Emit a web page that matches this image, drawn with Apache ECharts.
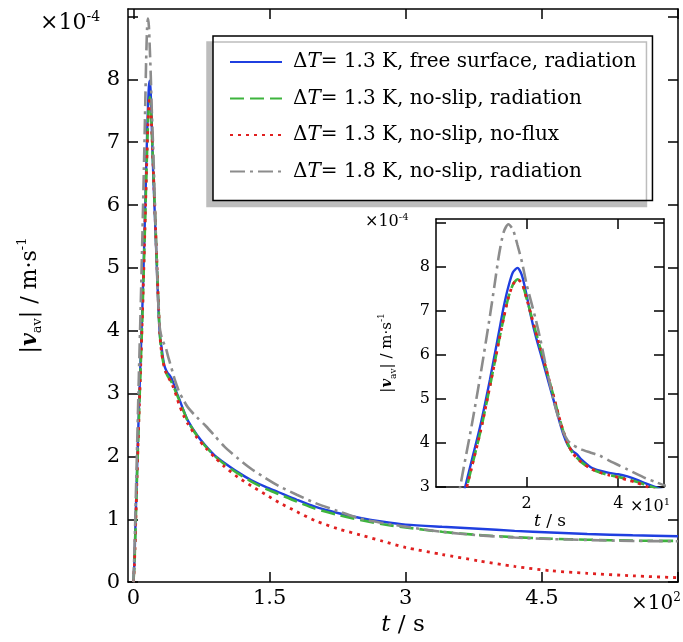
<!DOCTYPE html>
<html><head><meta charset="utf-8">
<script src="https://cdn.jsdelivr.net/npm/echarts@6/dist/echarts.min.js"></script>
<style>html,body{margin:0;padding:0;background:#fff}#c{width:683px;height:642px}</style>
</head><body><div id="c"></div>
<script>
// time in seconds
const timeS = [0,1,2,4,6,8,10,12,13,14,
  15,16,17,18,19,20,21,22,23,24,25,26,27,28,29,30,31,32,
  34,36,38,40,42,44,46,48,50,
  55,60,70,80,90,100,
  115,130,145,160,180,200,
  225,250,275,300,
  340,380,420,460,500,550,600];
// |v_av| in 1e-4 m/s
const vFreeSurfRad = [0,0.3,0.8,1.8,2.75,3.6,4.45,5.45,6.0,6.55,
  7.1,7.55,7.88,7.98,7.8,7.35,6.85,6.42,6.05,5.68,5.3,4.93,4.55,4.2,3.95,3.82,3.74,3.62,
  3.45,3.37,3.32,3.29,3.24,3.17,3.08,3.0,2.93,
  2.74,2.57,2.34,2.16,2.01,1.9,
  1.75,1.62,1.52,1.43,1.31,1.2,
  1.1,1.02,0.96,0.915,
  0.88,0.85,0.815,0.79,0.765,0.745,0.73];
const vNoSlipRad = [0,0.25,0.7,1.7,2.6,3.45,4.3,5.3,5.82,6.35,
  6.85,7.3,7.6,7.72,7.62,7.28,6.9,6.52,6.15,5.78,5.4,5.02,4.62,4.27,3.98,3.78,3.66,3.56,
  3.42,3.33,3.27,3.23,3.18,3.12,3.05,2.98,2.91,
  2.73,2.56,2.33,2.15,2.0,1.88,
  1.73,1.6,1.49,1.4,1.28,1.17,
  1.07,0.99,0.92,0.87,
  0.8,0.75,0.715,0.69,0.675,0.66,0.655];
const vNoSlipNoFlux = [0,0.25,0.7,1.7,2.6,3.45,4.3,5.3,5.82,6.35,
  6.85,7.3,7.6,7.72,7.62,7.28,6.9,6.52,6.15,5.78,5.4,5.02,4.62,4.27,3.98,3.78,3.66,3.56,
  3.42,3.33,3.27,3.22,3.16,3.1,3.02,2.93,2.84,
  2.66,2.52,2.3,2.13,1.98,1.84,
  1.67,1.53,1.4,1.27,1.12,0.98,
  0.85,0.75,0.65,0.55,
  0.44,0.34,0.25,0.18,0.14,0.1,0.07];
const vNoSlipRad18 = [0,0.45,1.0,2.15,3.3,4.4,5.6,6.9,7.6,8.3,
  8.8,8.97,8.85,8.5,8.1,7.6,7.2,6.8,6.35,5.85,5.38,4.92,4.55,4.25,4.05,3.96,3.9,3.85,
  3.78,3.71,3.6,3.5,3.4,3.3,3.2,3.12,3.04,
  2.9,2.78,2.62,2.48,2.32,2.16,
  1.97,1.8,1.66,1.53,1.39,1.26,
  1.13,1.01,0.94,0.88,
  0.8,0.745,0.71,0.685,0.67,0.655,0.65];

const seriesNames = ['dT13_free_rad','dT13_noslip_rad','dT13_noslip_noflux','dT18_noslip_rad'];
const legendDT = ['1.3','1.3','1.3','1.8'];
const legendRest = ['free surface, radiation','no-slip, radiation','no-slip, no-flux','no-slip, radiation'];
const seriesValues = [vFreeSurfRad, vNoSlipRad, vNoSlipNoFlux, vNoSlipRad18];

const mainXTicks = [0,150,300,450,600];
const mainXLabelVals = [0,150,300,450];
const mainXLabels = ['0','1.5','3','4.5'];
const mainYTicks = [0,1,2,3,4,5,6,7,8,9];
const mainYLabelVals = [0,1,2,3,4,5,6,7,8];
const mainYLabels = ['0','1','2','3','4','5','6','7','8'];
const insetXTicks = [20,40];
const insetXLabels = ['2','4'];
const insetYTicks = [3,4,5,6,7,8,9];
const insetYLabelVals = [3,4,5,6,7,8];
const insetYLabels = ['3','4','5','6','7','8'];

const FONT = 'DejaVu Serif';
const colors = ['#1f3fe0','#3db43d','#e02020','#8c8c8c'];
const dashes = ['solid',[14,6],[3,5],[15,5,3,5]];
const widths = [2.4,2.6,2.8,2.6];

function lbl(vals, labels){ return v => { const i = vals.indexOf(v); return i >= 0 ? labels[i] : ''; }; }
const axLine = {show:true, onZero:false, lineStyle:{color:'#000', width:1.5}};
const tickStyle = {color:'#000', width:1.5};

function xAxes(grid, min, max, ticks, labelVals, labels, fs, margin, name, nameGap, nfs){
  return [
    {gridIndex:grid, type:'value', min, max, position:'bottom', axisLine:axLine,
     axisTick:{inside:true, length:10, customValues:ticks, lineStyle:tickStyle},
     axisLabel:{customValues:labelVals, formatter:lbl(labelVals, labels), fontSize:fs, fontFamily:FONT, color:'#000', margin},
     splitLine:{show:false}, name, nameLocation:'middle', nameGap,
     nameTextStyle:{fontFamily:FONT, fontSize:nfs, color:'#000', rich:{i:{fontFamily:FONT, fontSize:nfs, fontStyle:'italic', color:'#000'}}}},
    {gridIndex:grid, type:'value', min, max, position:'top', axisLine:axLine,
     axisTick:{inside:true, length:10, customValues:ticks, lineStyle:tickStyle},
     axisLabel:{show:false}, splitLine:{show:false}}
  ];
}
function yAxes(grid, min, max, ticks, labelVals, labels, fs, margin, nameGap, nfs){
  const sm = Math.round(nfs*0.6);
  return [
    {gridIndex:grid, type:'value', min, max, position:'left', axisLine:axLine,
     axisTick:{inside:true, length:10, customValues:ticks, lineStyle:tickStyle},
     axisLabel:{customValues:labelVals, formatter:lbl(labelVals, labels), fontSize:fs, fontFamily:FONT, color:'#000', margin},
     splitLine:{show:false},
     name:'|{b|v}{sub|av}| / m·s{sup|-1}', nameLocation:'middle', nameGap, nameRotate:90,
     nameTextStyle:{fontFamily:FONT, fontSize:nfs, color:'#000', lineHeight:nfs+6,
       rich:{
         b:{fontFamily:FONT, fontSize:nfs, fontWeight:'bold', fontStyle:'italic', color:'#000', lineHeight:nfs+6},
         sub:{fontFamily:FONT, fontSize:sm, color:'#000', verticalAlign:'bottom', lineHeight:sm+2},
         sup:{fontFamily:FONT, fontSize:sm, color:'#000', verticalAlign:'top', lineHeight:sm+2}
       }}},
    {gridIndex:grid, type:'value', min, max, position:'right', axisLine:axLine,
     axisTick:{inside:true, length:10, customValues:ticks, lineStyle:tickStyle},
     axisLabel:{show:false}, splitLine:{show:false}}
  ];
}

const series = [];
[0,1].forEach(g => {
  seriesValues.forEach((vals, k) => {
    series.push({
      name: seriesNames[k], type:'line', xAxisIndex:g*2, yAxisIndex:g*2,
      data: timeS.map((t,i)=>[t, vals[i]]),
      symbol:'none', smooth:0.25, clip:true, animation:false,
      lineStyle:{color:colors[k], width:widths[k], type:dashes[k], cap:'butt'},
      itemStyle:{color:colors[k]}
    });
  });
});

function sciText(x, y, base, sup, fs){
  const s = Math.round(fs*0.62);
  return {type:'text', left:x, top:y, z:100,
    style:{text:base+'{sup|'+sup+'}', font:fs+'px "'+FONT+'"', fill:'#000',
      rich:{sup:{fontFamily:FONT, fontSize:s, fill:'#000', verticalAlign:'top', lineHeight:s}} , lineHeight:fs+4}};
}

const chart = echarts.init(document.getElementById('c'), null, {renderer:'canvas'});
chart.setOption({
  animation:false,
  backgroundColor:'#fff',
  grid:[
    {left:128, top:9, right:5, bottom:54},
    {left:436, top:219, right:19, bottom:155}
  ],
  xAxis:[
    ...xAxes(0, -6, 600, mainXTicks, mainXLabelVals, mainXLabels, 21, 6, '{i|t} / s', 30, 23),
    ...xAxes(1, 0.2, 50, insetXTicks, insetXTicks, insetXLabels, 16, 9, '{i|t} / s', 21, 17)
  ],
  yAxis:[
    ...yAxes(0, 0, 9.12, mainYTicks, mainYLabelVals, mainYLabels, 21, 8, 84, 22),
    ...yAxes(1, 3, 9.09, insetYTicks, insetYLabelVals, insetYLabels, 16, 6, 38, 15)
  ],
  legend:{
    data: seriesNames,
    orient:'vertical', left:213, top:36,
    padding:[15,16,18,16], itemGap:14.5, itemWidth:52, itemHeight:14,
    backgroundColor:'#fff', borderColor:'#000', borderWidth:1.5, borderRadius:0,
    shadowColor:'#bdbdbd', shadowBlur:0, shadowOffsetX:-6, shadowOffsetY:6,
    itemStyle:{opacity:0, color:'transparent', borderWidth:0},
    formatter: n => { const k = seriesNames.indexOf(n); return 'Δ{i|T}= ' + legendDT[k] + ' K, ' + legendRest[k]; },
    textStyle:{fontFamily:FONT, fontSize:20, color:'#000', lineHeight:22, padding:[0,0,0,6],
      rich:{i:{fontFamily:FONT, fontSize:20, fontStyle:'italic', color:'#000', lineHeight:22}}},
    selectedMode:false
  },
  graphic:[
    sciText(40, 10, '×10', '-4', 22),
    sciText(631, 592, '×10', '2', 20),
    sciText(365, 212, '×10', '-4', 16),
    sciText(630, 497, '×10', '1', 16)
  ],
  series
});
</script></body></html>
